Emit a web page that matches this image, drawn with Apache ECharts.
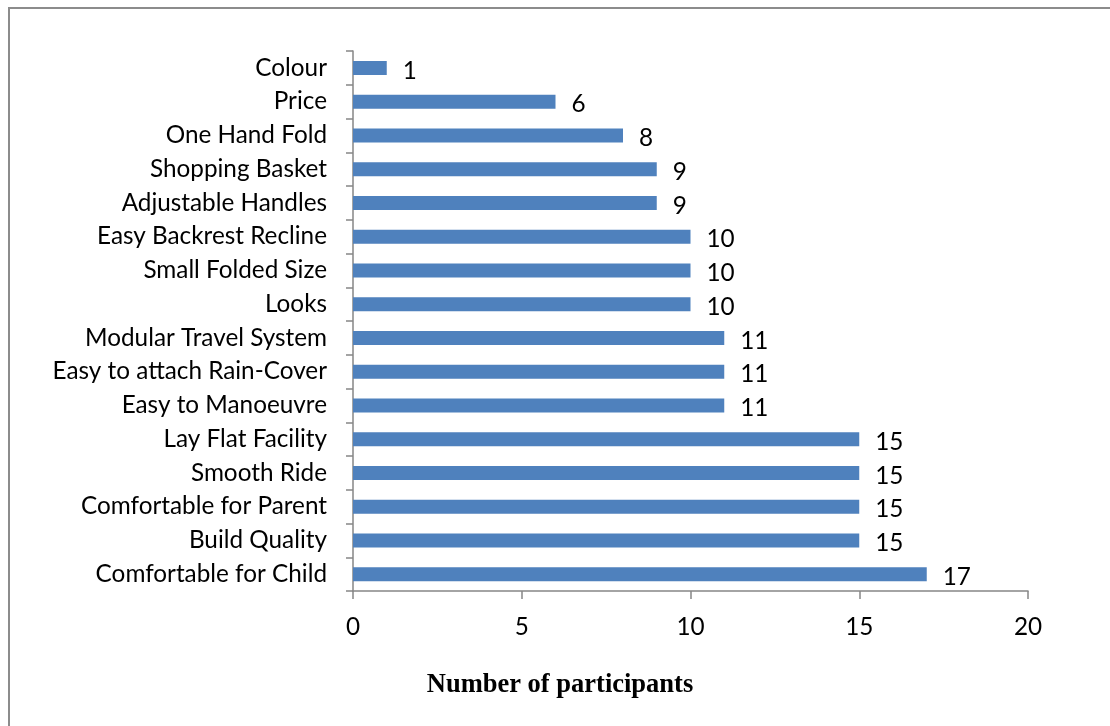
<!DOCTYPE html>
<html>
<head>
<meta charset="utf-8">
<script src="https://cdn.jsdelivr.net/npm/echarts@6/dist/echarts.min.js"></script>
<style>
  html, body { margin: 0; padding: 0; background: #ffffff; }
  #chart { width: 1110px; height: 726px; }
</style>
</head>
<body>
<div id="chart"></div>
<script>
// Stroller features ranked by number of participants (listed bottom to top)
const features = [
  'Comfortable for Child', 'Build Quality', 'Comfortable for Parent', 'Smooth Ride',
  'Lay Flat Facility', 'Easy to Manoeuvre', 'Easy to attach Rain-Cover',
  'Modular Travel System', 'Looks', 'Small Folded Size', 'Easy Backrest Recline',
  'Adjustable Handles', 'Shopping Basket', 'One Hand Fold', 'Price', 'Colour'
];
const participants = [17, 15, 15, 15, 15, 11, 11, 11, 10, 10, 10, 9, 9, 8, 6, 1];
const axisTicks = [0, 5, 10, 15, 20];
const axisTitle = 'Number of participants';

const chart = echarts.init(document.getElementById('chart'), null, { renderer: 'canvas' });
const labelFont = 'Lato, "Open Sans", sans-serif';
const labelSize = 24.3;
const axisGray = '#868686';

chart.setOption({
  animation: false,
  backgroundColor: '#ffffff',
  grid: { left: 353, right: 82, top: 51, bottom: 135, containLabel: false },
  xAxis: {
    type: 'value',
    min: axisTicks[0],
    max: axisTicks[axisTicks.length - 1],
    interval: axisTicks[1] - axisTicks[0],
    axisLine: { show: true, lineStyle: { color: axisGray, width: 1.5 } },
    axisTick: { show: true, length: 8, lineStyle: { color: axisGray, width: 1.5 } },
    axisLabel: { color: '#000', fontSize: labelSize, fontFamily: labelFont, margin: 24 },
    splitLine: { show: false }
  },
  yAxis: {
    type: 'category',
    data: features,
    axisLine: { show: true, lineStyle: { color: axisGray, width: 1.5 } },
    axisTick: { show: true, length: 7, lineStyle: { color: axisGray, width: 1.5 } },
    axisLabel: { color: '#000', fontSize: labelSize, fontFamily: labelFont, margin: 26 },
    splitLine: { show: false }
  },
  series: [{
    type: 'bar',
    data: participants,
    barWidth: 14,
    itemStyle: { color: '#4F81BD' },
    label: {
      show: true,
      position: 'right',
      distance: 16,
      color: '#000',
      fontSize: labelSize,
      fontFamily: labelFont,
      offset: [0, 3]
    }
  }],
  graphic: [
    {
      type: 'rect',
      shape: { x: 9, y: 8, width: 1200, height: 800 },
      style: { fill: 'none', stroke: '#8c8c8c', lineWidth: 2 },
      silent: true
    },
    {
      type: 'text',
      x: 560,
      y: 685,
      style: {
        text: axisTitle,
        fill: '#000',
        font: 'bold 26.5px "Liberation Serif", "Times New Roman", serif',
        textAlign: 'center',
        textVerticalAlign: 'middle'
      }
    }
  ]
});
</script>
</body>
</html>
